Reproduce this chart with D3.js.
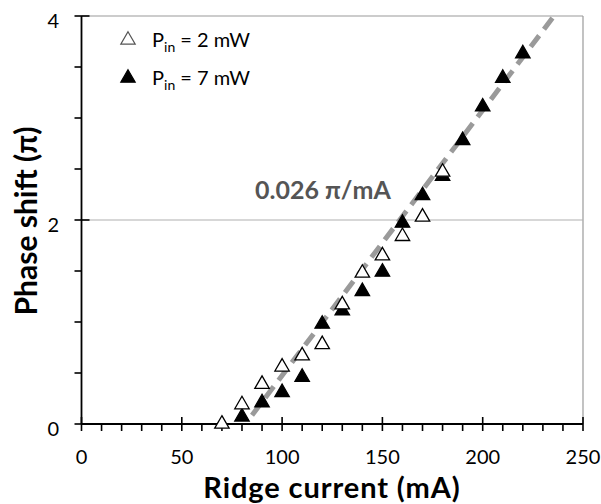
<!DOCTYPE html>
<html><head><meta charset="utf-8">
<script src="https://cdn.jsdelivr.net/npm/d3@7"></script>
<style>body{margin:0;background:#fff;} svg{display:block;font-family:Lato, "Open Sans", sans-serif;}</style>
</head><body><svg id="c" width="601" height="504"></svg>
<script>
const currents2 = [70, 80, 90, 100, 110, 120, 130, 140, 150, 160, 170, 180];
const shift2 = [0.00, 0.19, 0.39, 0.56, 0.67, 0.78, 1.17, 1.48, 1.65, 1.84, 2.03, 2.47];
const currents7 = [80, 90, 100, 110, 120, 130, 140, 150, 160, 170, 180, 190, 200, 210, 220];
const shift7 = [0.07, 0.21, 0.31, 0.46, 0.98, 1.11, 1.30, 1.49, 1.97, 2.24, 2.43, 2.78, 3.11, 3.39, 3.63];
const fitSlope = 0.026;
const fitX0 = 81.7;
const fitStart = 85;
const xTicks = [0, 50, 100, 150, 200, 250];
const yTicks = [0, 2, 4];
const legendLabels = ["2 mW", "7 mW"];

const svg = d3.select("#c");
const x = d3.scaleLinear().domain([0, 250]).range([81.5, 583]);
const y = d3.scaleLinear().domain([0, 4]).range([424, 16]);

// frame (top/right) and gridline
svg.append("line").attr("x1", x(0)).attr("x2", x(250)).attr("y1", y(4)).attr("y2", y(4)).attr("stroke", "#9a9a9a").attr("stroke-width", 1.2);
svg.append("line").attr("x1", x(250)).attr("x2", x(250)).attr("y1", y(4)).attr("y2", y(0)).attr("stroke", "#9a9a9a").attr("stroke-width", 1.2);
svg.append("line").attr("x1", x(0)).attr("x2", x(250)).attr("y1", y(2)).attr("y2", y(2)).attr("stroke", "#b0b0b0").attr("stroke-width", 1.2);

// axes
const gx = svg.append("g");
gx.append("line").attr("x1", x(0)).attr("x2", x(250)).attr("y1", y(0)).attr("y2", y(0)).attr("stroke", "#000").attr("stroke-width", 1.8);
d3.range(0, 251, 10).forEach(v => {
  const major = v % 50 === 0;
  gx.append("line").attr("x1", x(v)).attr("x2", x(v))
    .attr("y1", major ? y(0) - 7 : y(0)).attr("y2", y(0) + 7)
    .attr("stroke", "#000").attr("stroke-width", 1.6);
});
xTicks.forEach(v => {
  gx.append("text").attr("x", x(v)).attr("y", 464).attr("text-anchor", "middle")
    .attr("font-size", 20).attr("fill", "#000").text(v);
});

const gy = svg.append("g");
gy.append("line").attr("x1", x(0)).attr("x2", x(0)).attr("y1", y(0)).attr("y2", y(4)).attr("stroke", "#000").attr("stroke-width", 1.8);
d3.range(0, 4.01, 0.5).forEach(v => {
  const major = Math.abs(v % 2) < 1e-6;
  gy.append("line").attr("x1", x(0) - 7).attr("x2", major ? x(0) + 8 : x(0))
    .attr("y1", y(v)).attr("y2", y(v)).attr("stroke", "#000").attr("stroke-width", 1.6);
});
yTicks.forEach(v => {
  gy.append("text").attr("x", 59).attr("y", y(v) + 12).attr("text-anchor", "end")
    .attr("font-size", 20).attr("fill", "#000").text(v);
});

// axis titles
svg.append("text").attr("x", 332).attr("y", 498).attr("text-anchor", "middle")
  .attr("font-size", 29).attr("letter-spacing", 0.9).attr("font-weight", "bold").attr("fill", "#000").text("Ridge current (mA)");
svg.append("text").attr("transform", "translate(37,221) rotate(-90)").attr("text-anchor", "middle")
  .attr("font-size", 30).attr("font-weight", "bold").attr("fill", "#000").text("Phase shift (π)");

// fit line
const xEnd = fitX0 + 4 / fitSlope;
svg.append("line")
  .attr("x1", x(fitStart)).attr("y1", y(fitSlope * (fitStart - fitX0)))
  .attr("x2", x(xEnd)).attr("y2", y(4))
  .attr("stroke", "#9a9a9a").attr("stroke-width", 5).attr("stroke-dasharray", "14,8");

svg.append("text").attr("x", 255).attr("y", 199).attr("font-size", 25).attr("font-weight", "bold")
  .attr("fill", "#555").text("0.026 π/mA");

// markers
const tri = d3.symbol().type(d3.symbolTriangle).size(90);
function drawSeries(xs, ys, filled) {
  svg.append("g").selectAll("path").data(xs.map((c, i) => [c, ys[i]])).join("path")
    .attr("d", tri)
    .attr("transform", d => `translate(${x(d[0])},${y(d[1])})`)
    .attr("fill", filled ? "#000" : "#fff")
    .attr("stroke", "#000").attr("stroke-width", 1.3);
}
drawSeries(currents7, shift7, true);
drawSeries(currents2, shift2, false);

// legend
const leg = svg.append("g");
[[40, false], [78, true]].forEach(([ly, filled], i) => {
  leg.append("path").attr("d", tri).attr("transform", `translate(128,${ly})`)
    .attr("fill", filled ? "#000" : "#fff").attr("stroke", filled ? "#000" : "#555").attr("stroke-width", 1.2);
  const t = leg.append("text").attr("x", 152).attr("y", ly + 7).attr("font-size", 20).attr("fill", "#000");
  t.append("tspan").text("P");
  t.append("tspan").attr("font-size", 14).attr("dy", 5).text("in");
  t.append("tspan").attr("dy", -5).text(" = " + legendLabels[i]);
});
</script></body></html>
